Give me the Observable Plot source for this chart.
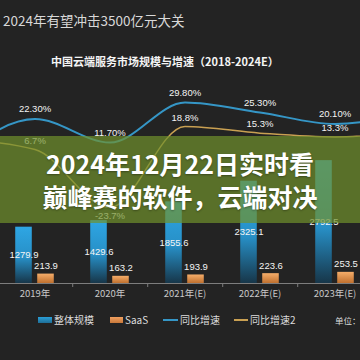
<!DOCTYPE html>
<html><head><meta charset="utf-8">
<script src="https://cdn.jsdelivr.net/npm/d3@7"></script>
<script src="https://cdn.jsdelivr.net/npm/@observablehq/plot@0.6"></script>
<style>
html,body{margin:0;padding:0;}
body{width:360px;height:360px;background:#232323;position:relative;overflow:hidden;font-family:"Noto Sans CJK SC","Noto Sans",sans-serif;}
#title{position:absolute;left:3px;top:12px;font-size:13.5px;line-height:17px;color:#d8d8d8;white-space:nowrap;}
#subtitle{position:absolute;left:51px;top:54px;font-size:11px;line-height:15px;font-weight:bold;color:#f4f4f4;white-space:nowrap;}
#chart{position:absolute;left:-80px;top:0;width:528px;height:310px;}
#chart svg{max-width:none !important;width:528px;height:310px;display:block;}
#banner{position:absolute;left:0;top:136px;width:360px;height:87px;background:rgba(112,146,44,0.7);color:#fff;font-weight:bold;font-size:25px;line-height:33px;display:flex;flex-direction:column;justify-content:center;align-items:center;text-shadow:0 1px 2px rgba(0,0,0,0.35);white-space:nowrap;}
.lg{position:absolute;top:312px;font-size:10px;line-height:16px;color:#dcdcdc;white-space:nowrap;}
.sw{position:absolute;}
</style>
</head><body>
<div id="title"></div>
<div id="subtitle"></div>
<div id="chart"></div>
<div id="legendBox"></div>
<div id="banner"></div>
<script>
// ---- data ----
const years = ["2018", "2019", "2020", "2021", "2022", "2023", "2024"];
const yearLabels = ["2018年", "2019年", "2020年", "2021年(E)", "2022年(E)", "2023年(E)", "2024年(E)"];
const totalScale = [1046.5, 1279.9, 1429.6, 1855.6, 2325.1, 2792.5, 3490.6];   // 整体规模
const saasScale = [200.5, 213.9, 163.2, 193.9, 223.6, 253.5, 294.1];           // SaaS
const growth = [6.0, 22.3, 11.7, 29.8, 25.3, 20.1, 25.0];                       // 同比增速 (%)
const growth2 = [12.0, 6.7, -23.7, 18.8, 15.3, 13.3, 16.0];                     // 同比增速2 (%)
const visibleYears = ["2019", "2020", "2021", "2022", "2023"];                  // years inside the cropped view
const seriesNames = ["整体规模", "SaaS", "同比增速", "同比增速2"];
const titleText = "2024年有望冲击3500亿元大关";
const subtitleText = "中国云端服务市场规模与增速（2018-2024E）";
const unitText = "单位：亿元";
const bannerLines = ["2024年12月22日实时看", "巅峰赛的软件，云端对决"];

// ---- styles / geometry ----
const W = 528, H = 310, MB = 27;
const pxPerUnit = 0.044;                 // bar scale
const yTop = (H - MB) / pxPerUnit;
const blueZeroPx = 167.9, bluePxPerPct = 2.21;         // line axis 1
const orangeZeroPx = 161.8, orangePxPerPct = 1.906;    // line axis 2
const toUnits1 = v => (H - MB - blueZeroPx + bluePxPerPct * v) / pxPerUnit;
const toUnits2 = v => (H - MB - orangeZeroPx + orangePxPerPct * v) / pxPerUnit;
const blue = "#3596c6", orange = "#c9a052";

const rows = years.map((y, i) => ({year: y, total: totalScale[i], saas: saasScale[i], g1: growth[i], g2: growth2[i]}));
const shown = d => visibleYears.includes(d.year);

document.getElementById("title").textContent = titleText;
document.getElementById("subtitle").textContent = subtitleText;
const banner = document.getElementById("banner");
bannerLines.forEach(t => { const d = document.createElement("div"); d.textContent = t; banner.appendChild(d); });

const step = W / years.length;
const fontNum = '"Liberation Sans","Noto Sans CJK SC",sans-serif';

const svg = Plot.plot({
  width: W, height: H,
  marginTop: 0, marginBottom: MB, marginLeft: 0, marginRight: 0,
  style: {background: "transparent", color: "#ccc", fontFamily: fontNum, fontSize: "9.5px", overflow: "visible"},
  x: {type: "band", domain: years, padding: 0, label: null},
  y: {domain: [0, yTop], axis: null},
  marks: [
    Plot.ruleY([0], {stroke: "#7d7d7d", strokeWidth: 1.2}),
    Plot.ruleX(years.slice(0, -1), {x: d => d, y1: 0, y2: -4 / pxPerUnit, dx: step / 2, stroke: "#7d7d7d"}),
    Plot.barY(rows, {x: "year", y: "total", fill: "url(#gBlue)", insetLeft: step / 2 - 19.5, insetRight: step / 2 + 2.5}),
    Plot.barY(rows, {x: "year", y: "saas", fill: "url(#gOrange)", insetLeft: step / 2 + 2.5, insetRight: step / 2 - 19.5}),
    Plot.text(rows, {filter: shown, x: "year", y: d => d.total / 2, text: d => d.total.toFixed(1), dx: -11, fill: "#f4f4f4", fontSize: 9.5}),
    Plot.text(rows, {filter: shown, x: "year", y: "saas", text: d => d.saas.toFixed(1), dx: 11, dy: -8, fill: "#f4f4f4", fontSize: 9.5}),
    Plot.line(rows, {x: "year", y: d => toUnits2(d.g2), curve: "monotone-x", stroke: orange, strokeWidth: 1.5}),
    Plot.line(rows, {x: "year", y: d => toUnits1(d.g1), curve: "monotone-x", stroke: blue, strokeWidth: 2}),
    Plot.text(rows, {filter: shown, x: "year", y: d => toUnits1(d.g1), text: d => d.g1.toFixed(2) + "%", dy: -10, fill: "#f4f4f4", fontSize: 9.5}),
    Plot.text(rows, {filter: d => shown(d) && d.g2 >= 0, x: "year", y: d => toUnits2(d.g2), text: d => d.g2.toFixed(1) + "%", dy: -9, fill: "#f4f4f4", fontSize: 9.5}),
    Plot.text(rows, {filter: d => shown(d) && d.g2 < 0, x: "year", y: d => toUnits2(d.g2), text: d => d.g2.toFixed(1) + "%", dy: 8, fill: "#f4f4f4", fontSize: 9.5}),
    Plot.axisX(visibleYears, {tickSize: 0, tickPadding: 7, label: null, fill: "#c8c8c8", fontSize: 9.5, fontFamily: '"Noto Sans CJK SC",sans-serif', tickFormat: d => yearLabels[years.indexOf(d)]})
  ]
});

const defs = d3.select(svg).insert("defs", ":first-child");
const gb = defs.append("linearGradient").attr("id", "gBlue").attr("x1", 0).attr("y1", 0).attr("x2", 0).attr("y2", 1);
gb.append("stop").attr("offset", 0).attr("stop-color", "#2ea6e4");
gb.append("stop").attr("offset", 0.55).attr("stop-color", "#278fc6");
gb.append("stop").attr("offset", 1).attr("stop-color", "#173649");
const go = defs.append("linearGradient").attr("id", "gOrange").attr("x1", 0).attr("y1", 0).attr("x2", 0).attr("y2", 1);
go.append("stop").attr("offset", 0).attr("stop-color", "#f5ad6a");
go.append("stop").attr("offset", 1).attr("stop-color", "#c0702e");
document.getElementById("chart").appendChild(svg);

// ---- legend ----
const lb = document.getElementById("legendBox");
const legendItems = [
  {name: seriesNames[0], sx: 38, sw: 14, sh: 6, color: "linear-gradient(#2a9fd8,#1f6e96)", tx: 54},
  {name: seriesNames[1], sx: 110, sw: 13, sh: 6, color: "linear-gradient(#f0a060,#c8783a)", tx: 125},
  {name: seriesNames[2], sx: 163, sw: 15, sh: 2, color: blue, tx: 180},
  {name: seriesNames[3], sx: 234, sw: 14, sh: 2, color: orange, tx: 250}
];
legendItems.forEach(it => {
  const s = document.createElement("div");
  s.className = "sw";
  s.style.left = it.sx + "px"; s.style.width = it.sw + "px"; s.style.height = it.sh + "px";
  s.style.top = (320 - it.sh / 2) + "px"; s.style.background = it.color;
  lb.appendChild(s);
  const t = document.createElement("div");
  t.className = "lg"; t.style.left = it.tx + "px"; t.textContent = it.name;
  lb.appendChild(t);
});
const u = document.createElement("div");
u.className = "lg"; u.style.left = "335px"; u.style.fontSize = "8.5px"; u.textContent = unitText;
lb.appendChild(u);
</script>
</body></html>
